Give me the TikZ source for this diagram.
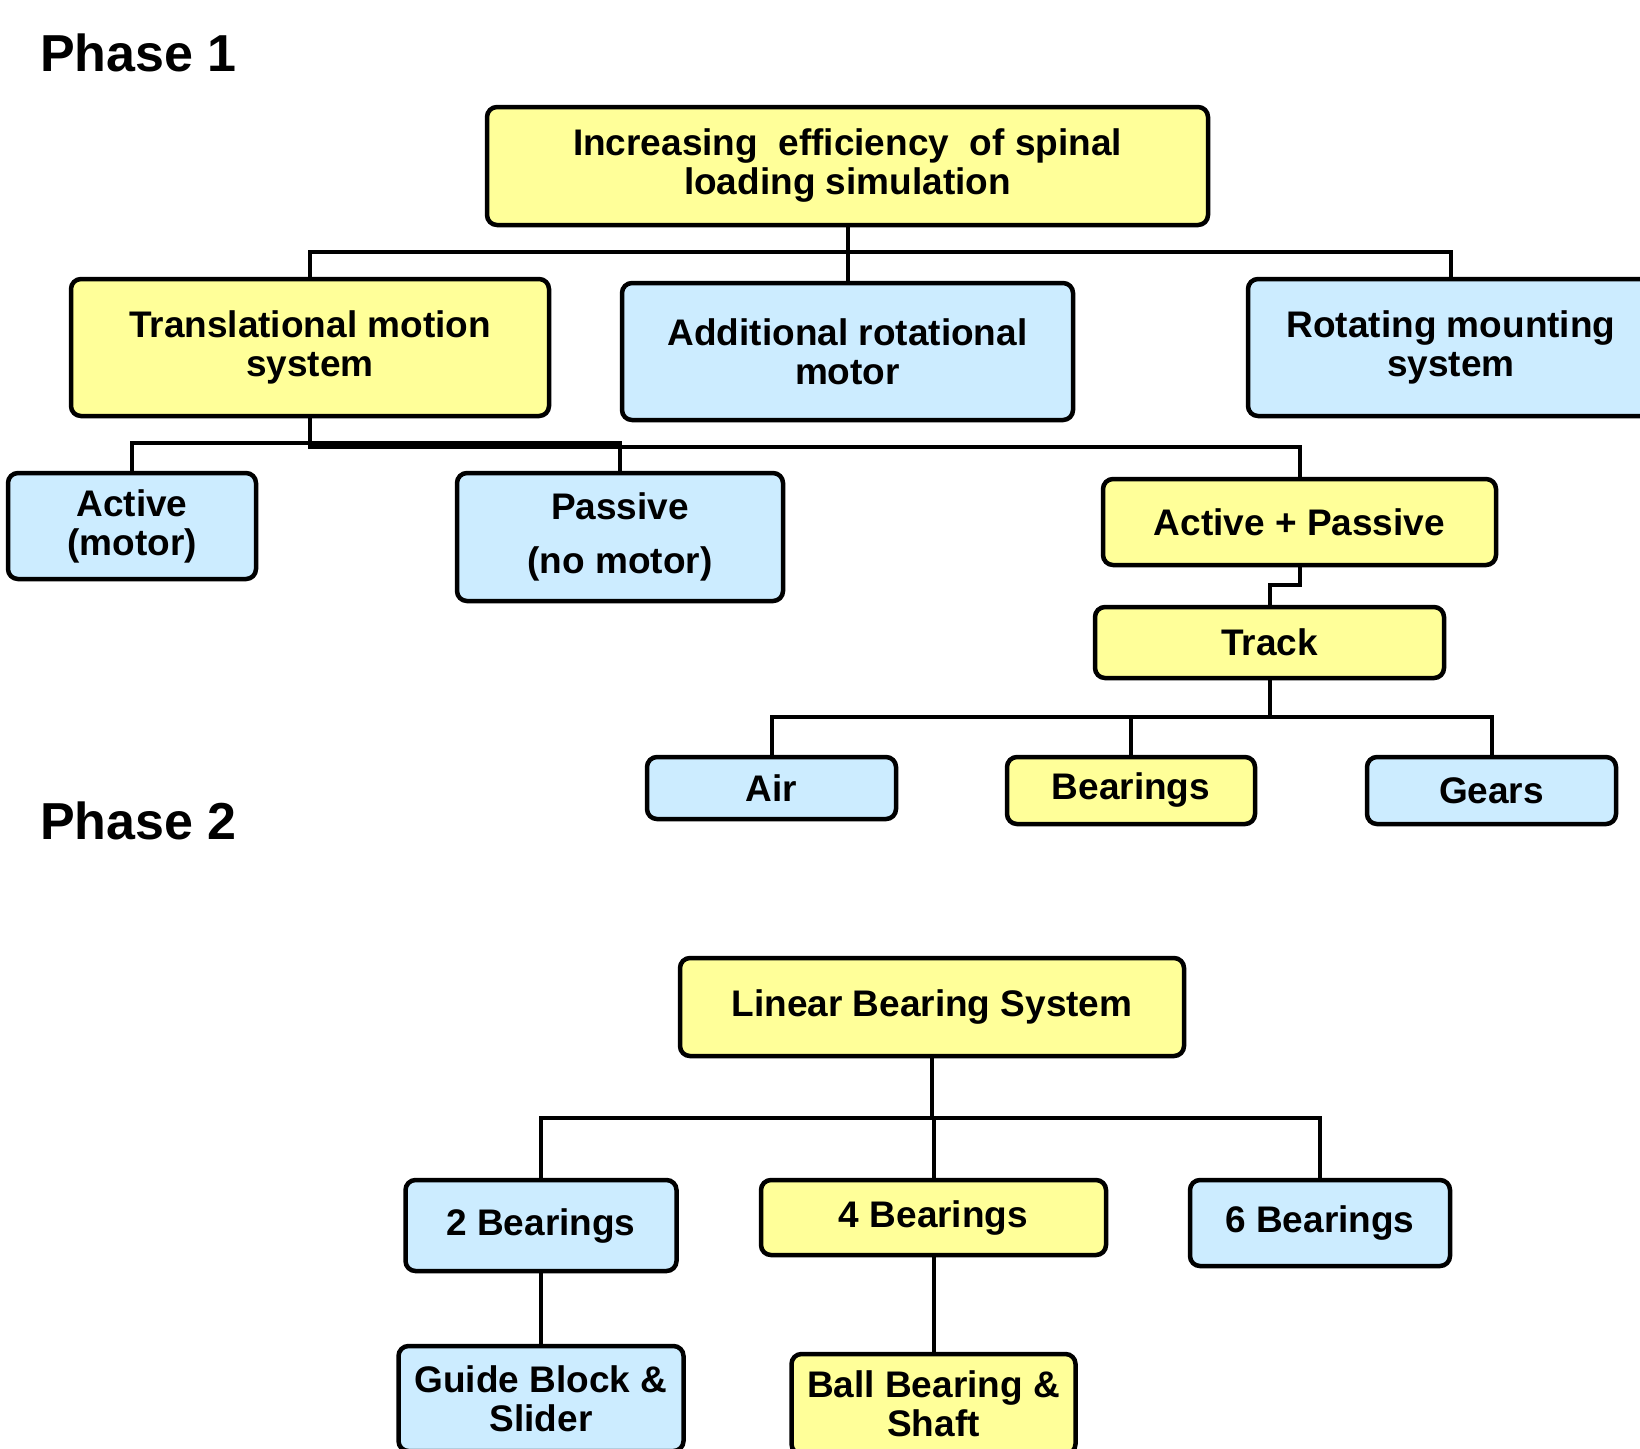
\documentclass[tikz,border=0pt]{standalone}
\usepackage{fontspec}
\setmainfont{Liberation Sans}
\definecolor{yel}{HTML}{FFFF99}
\definecolor{blu}{HTML}{CCECFF}
\begin{document}
\begin{tikzpicture}[x=1pt,y=-1pt,
  box/.style={draw=black, line width=4.5pt, rounded corners=10pt, inner sep=0pt,
    align=center, font=\fontsize{37}{39}\selectfont\bfseries},
  ybox/.style={box, fill=yel},
  bbox/.style={box, fill=blu},
  con/.style={line width=4pt},
  phase/.style={anchor=base west, inner sep=0pt, font=\fontsize{52}{56}\selectfont\bfseries}]
\fill[white] (0,0) rectangle (1640,1448);
\clip (0,0) rectangle (1640,1448);

\node[phase] (ph1) at (40,71) {Phase 1};
\node[phase] (ph2) at (40,839) {Phase 2};

\node[ybox, minimum width=721, minimum height=118] (top) at (847.5,166) {Increasing\ \ efficiency\ \ of spinal\\loading simulation};
\node[ybox, minimum width=478, minimum height=137] (trans) at (310,347.5) {Translational motion\\system};
\node[bbox, minimum width=451, minimum height=137] (addl) at (847.5,351.5) {Additional rotational\\motor};
\node[bbox, minimum width=406, minimum height=137] (rot) at (1451,347.5) {Rotating mounting\\system};
\node[bbox, minimum width=248, minimum height=106] (act) at (132,526) {Active\\(motor)};
\node[bbox, minimum width=326, minimum height=128] (pas) at (620,537) {Passive\\[15pt](no motor)};
\node[ybox, minimum width=393, minimum height=86] (ap) at (1299.5,522) {Active + Passive};
\node[ybox, minimum width=349, minimum height=71] (track) at (1269.5,642.5) {Track};
\node[bbox, minimum width=249, minimum height=62] (air) at (771.5,788) {Air};
\node[ybox, minimum width=248, minimum height=67] (bear) at (1131,790.5) {Bearings};
\node[bbox, minimum width=249, minimum height=67] (gears) at (1491.5,790.5) {Gears};

\node[ybox, minimum width=504, minimum height=98] (lin) at (932,1007) {Linear Bearing System};
\node[bbox, minimum width=271, minimum height=91] (b2) at (541,1225.5) {2 Bearings};
\node[ybox, minimum width=345, minimum height=75] (b4) at (933.5,1217.5) {4 Bearings};
\node[bbox, minimum width=260, minimum height=86] (b6) at (1320,1223) {6 Bearings};
\node[bbox, minimum width=285, minimum height=105] (guide) at (541,1398.5) {Guide Block \&\\Slider};
\node[ybox, minimum width=284, minimum height=100] (ball) at (933.5,1404) {Ball Bearing \&\\Shaft};

\coordinate (bus1) at (0,252);
\coordinate (bus2) at (0,443);
\coordinate (bus3) at (0,447);
\coordinate (bus4) at (0,585);
\coordinate (bus5) at (0,717);
\coordinate (bus6) at (0,1118);

% level 1
\draw[con] (top.south) -- (top.south |- bus1);
\draw[con] (trans.north) -- (trans.north |- bus1) -- (rot.north |- bus1) -- (rot.north);
\draw[con] (addl.north) -- (addl.north |- bus1);
% level 2
\draw[con] (act.north) -- (act.north |- bus2) -- (pas.north |- bus2) -- (pas.north);
\draw[con] (trans.south) -- (trans.south |- bus3) -- (ap.north |- bus3) -- (ap.north);
% track
\draw[con] (ap.south) -- (ap.south |- bus4) -- (track.north |- bus4) -- (track.north);
\draw[con] (track.south) -- (track.south |- bus5);
\draw[con] (air.north) -- (air.north |- bus5) -- (gears.north |- bus5) -- (gears.north);
\draw[con] (bear.north) -- (bear.north |- bus5);
% phase 2
\draw[con] (lin.south) -- (lin.south |- bus6);
\draw[con] (b2.north) -- (b2.north |- bus6) -- (b6.north |- bus6) -- (b6.north);
\draw[con] (b4.north) -- (b4.north |- bus6);
\draw[con] (b2.south) -- (b2.south |- guide.north);
\draw[con] (b4.south) -- (b4.south |- ball.north);
\end{tikzpicture}
\end{document}
